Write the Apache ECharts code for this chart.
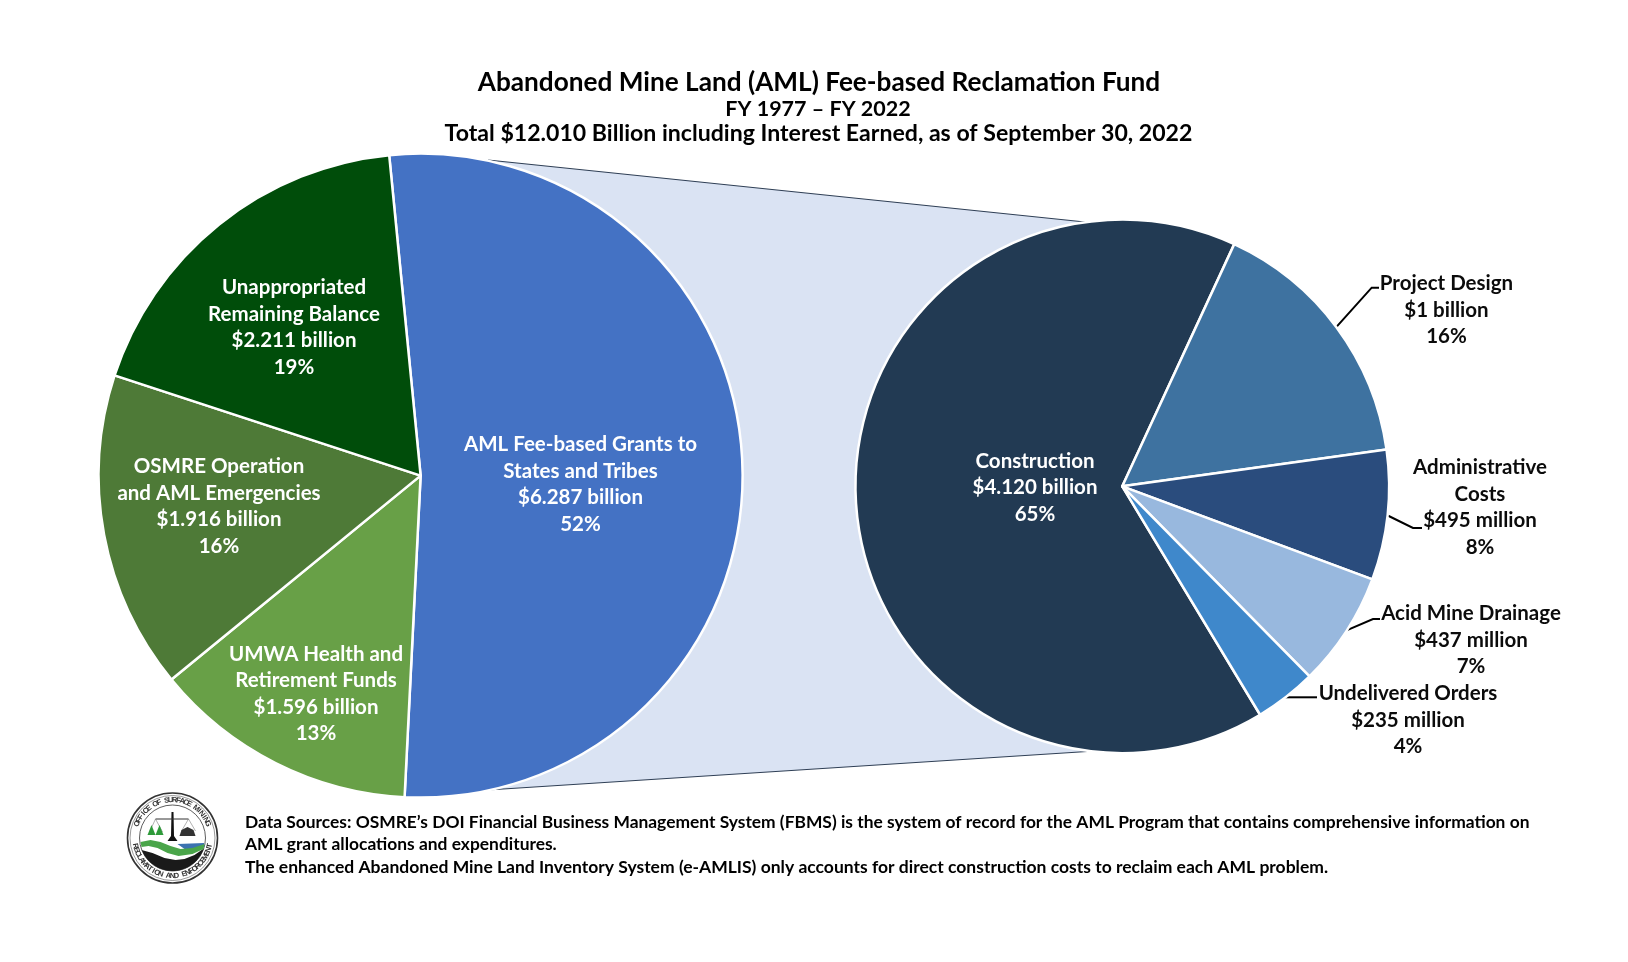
<!DOCTYPE html>
<html><head><meta charset="utf-8">
<style>html,body{margin:0;padding:0;background:#fff}#c{width:1628px;height:962px}</style>
<script src="https://cdn.jsdelivr.net/npm/echarts@6/dist/echarts.min.js"></script>
</head><body><div id="c"></div>
<script>
// ---- data ----
const fundCategories = ['AML Fee-based Grants to\nStates and Tribes','UMWA Health and\nRetirement Funds','OSMRE Operation\nand AML Emergencies','Unappropriated\nRemaining Balance'];
const fundValues = [6287,1596,1916,2211];
const fundAmounts = ['$6.287 billion','$1.596 billion','$1.916 billion','$2.211 billion'];
const fundPercents = ['52%','13%','16%','19%'];
const grantCategories = ['Construction','Project Design','Administrative\nCosts','Acid Mine Drainage','Undelivered Orders'];
const grantValues = [4120,1000,495,437,235];
const grantAmounts = ['$4.120 billion','$1 billion','$495 million','$437 million','$235 million'];
const grantPercents = ['65%','16%','8%','7%','4%'];
const titleLines = ['Abandoned Mine Land (AML) Fee-based Reclamation Fund','FY 1977 \u2013 FY 2022','Total $12.010 Billion including Interest Earned, as of September 30, 2022'];
const footLines = ['Data Sources: OSMRE\u2019s DOI Financial Business Management System (FBMS) is the system of record for the AML Program that contains comprehensive information on','AML grant allocations and expenditures.','The enhanced Abandoned Mine Land Inventory System (e-AMLIS) only accounts for direct construction costs to reclaim each AML problem.'];
// ---- layout / style ----
const FONT='Lato';
const fundColors=['#4472C4','#68A047','#4E7A37','#004D0A'];
const grantColors=['#223A53','#3E72A0','#2A4C7D','#98B8DE','#3F88CB'];
const fundLabelPos=[[580.5,484.6],[316,693.8],[219,506.2],[294,327.6]];
const grantLabelPos=[[1035,487.6],[1446.5,310],[1480,507.6],[1471,640],[1408,720]];
const grantLeaders=[null,
 [[1336.7,326.7],[1371.7,287.7],[1379,287.7]],
 [[1386.7,515],[1413,528],[1422,528]],
 [[1346,630.7],[1373,619],[1380,619]],
 [[1285,697.3],[1300,697.3],[1317,697.3]]];
const pieLabel=(color)=>({fontFamily:FONT,fontWeight:'bold',fontSize:20.5,lineHeight:26.5,color:color,align:'center'});
function makeData(cats,vals,amts,pcts,colors,isInside){
  return cats.map((c,i)=>{
    const inside=isInside(i);
    return {name:c,value:vals[i],
      itemStyle:{color:colors[i]},
      label:Object.assign({show:true,position:inside?'inside':'outside',formatter:c+'\n'+amts[i]+'\n'+pcts[i]},pieLabel(inside?'#fff':'#0b0b0b')),
      labelLine:{show:!inside,lineStyle:{color:'#000',width:2}}};
  });
}
const ringTop='OFFICE OF SURFACE MINING', ringBottom='RECLAMATION AND ENFORCEMENT';
function logo(){
  const ch=[];
  ch.push({type:'circle',shape:{cx:0,cy:0,r:45},style:{fill:'#fff',stroke:'#333',lineWidth:1.6}});
  ch.push({type:'circle',shape:{cx:0,cy:0,r:42.5},style:{fill:'none',stroke:'#555',lineWidth:.6}});
  ch.push({type:'circle',shape:{cx:0,cy:0,r:33},style:{fill:'#fff',stroke:'#333',lineWidth:.8}});
  const put=(txt,a0,a1,r,flip)=>{[...txt].forEach((t,i)=>{
    const a=a0+(a1-a0)*i/(txt.length-1), rad=a*Math.PI/180;
    ch.push({type:'text',x:r*Math.sin(rad),y:-r*Math.cos(rad),rotation:flip?-(a-180)*Math.PI/180:-rad,
      style:{text:t,fontSize:7.5,fontWeight:'bold',fontFamily:'Liberation Sans',fill:'#333',align:'center',verticalAlign:'middle'}});
  });};
  put(ringTop,-68,68,38,false);
  put(ringBottom,258,102,38,true);
  // black ground
  const black=[[-31,12],[-20,15],[-8,20],[3,22],[12,21],[22,17],[32,10]];
  const arc=[];for(let d=20;d<=158;d+=6){const r=d*Math.PI/180;arc.push([33*Math.cos(r),33*Math.sin(r)]);}
  ch.push({type:'polygon',shape:{points:black.concat(arc)},style:{fill:'#1a1a1a'}});
  ch.push({type:'polygon',shape:{points:[[5,6],[31.5,5],[32,9],[22,12],[12,11]]},style:{fill:'#3b72b0'}});
  ch.push({type:'polygon',shape:{points:[[-32,4],[-22,2],[-12,4],[-2,8],[8,11],[20,10],[32,6],[31,11],[20,16],[6,18],[-5,15],[-15,10],[-24,8],[-31,9]]},style:{fill:'#4aa54a'}});
  ch.push({type:'polygon',shape:{points:[[-1,-26],[1,-26],[1.5,-2],[5,3],[-5,3],[-1.5,-2]]},style:{fill:'#111'}});
  ch.push({type:'line',shape:{x1:-17,y1:-19,x2:16,y2:-19},style:{stroke:'#333',lineWidth:1}});
  ch.push({type:'polyline',shape:{points:[[-17,-19],[-23,-6]]},style:{stroke:'#666',lineWidth:.5,fill:'none'}});
  ch.push({type:'polyline',shape:{points:[[-17,-19],[-10,-6]]},style:{stroke:'#666',lineWidth:.5,fill:'none'}});
  ch.push({type:'polyline',shape:{points:[[16,-19],[9,-7]]},style:{stroke:'#666',lineWidth:.5,fill:'none'}});
  ch.push({type:'polyline',shape:{points:[[16,-19],[23,-7]]},style:{stroke:'#666',lineWidth:.5,fill:'none'}});
  ch.push({type:'polygon',shape:{points:[[-21,-13],[-25,-3],[-17,-3]]},style:{fill:'#2e9a3a'}});
  ch.push({type:'polygon',shape:{points:[[-13,-13],[-17,-3],[-9,-3]]},style:{fill:'#2e9a3a'}});
  ch.push({type:'polygon',shape:{points:[[7,-2],[9,-8],[15,-11],[21,-8],[23,-2]]},style:{fill:'#333'}});
  return {type:'group',x:172.5,y:838,children:ch};
}
const chart=echarts.init(document.getElementById('c'),null,{renderer:'canvas'});
chart.setOption({
  animation:false,
  backgroundColor:'#fff',
  title:[
    {text:titleLines[0],left:814,top:65,textAlign:'center',textStyle:{fontFamily:FONT,fontWeight:'bold',fontSize:26.2,color:'#000'}},
    {text:titleLines[1],left:813,top:93,textAlign:'center',textStyle:{fontFamily:FONT,fontWeight:'bold',fontSize:21.5,color:'#000'}},
    {text:titleLines[2],left:813.5,top:117,textAlign:'center',textStyle:{fontFamily:FONT,fontWeight:'bold',fontSize:23.1,color:'#000'}},
    {text:footLines[0],left:240,top:809,textStyle:{fontFamily:FONT,fontWeight:'bold',fontSize:17.4,color:'#000'}},
    {text:footLines[1],left:240,top:831,textStyle:{fontFamily:FONT,fontWeight:'bold',fontSize:17.4,color:'#000'}},
    {text:footLines[2],left:240,top:853,textStyle:{fontFamily:FONT,fontWeight:'bold',fontSize:17.5,color:'#000'}}
  ],
  graphic:[
    {type:'polygon',z:0,shape:{points:[[488,160],[1085,222],[1095,751],[472,791]]},style:{fill:'#DAE3F3'}},
    {type:'line',z:1,shape:{x1:488,y1:160,x2:1085,y2:222},style:{stroke:'#2f3f55',lineWidth:1.2}},
    {type:'line',z:1,shape:{x1:472,y1:791,x2:1095,y2:751},style:{stroke:'#2f3f55',lineWidth:1.2}},
    Object.assign(logo(),{z:5})
  ],
  series:[
    {type:'pie',center:[420.6,475.6],radius:[0,322],startAngle:95.6,clockwise:true,
     itemStyle:{borderColor:'#fff',borderWidth:2.5},
     avoidLabelOverlap:false,
     data:makeData(fundCategories,fundValues,fundAmounts,fundPercents,fundColors,()=>true),
     labelLayout:(p)=>({x:fundLabelPos[p.dataIndex][0],y:fundLabelPos[p.dataIndex][1],align:'center',verticalAlign:'middle'})},
    {type:'pie',center:[1122.3,486.3],radius:[0,266.8],startAngle:-58.9,clockwise:true,
     itemStyle:{borderColor:'#fff',borderWidth:2.5},
     avoidLabelOverlap:false,
     data:makeData(grantCategories,grantValues,grantAmounts,grantPercents,grantColors,(i)=>i===0),
     labelLayout:(p)=>{
       const o={x:grantLabelPos[p.dataIndex][0],y:grantLabelPos[p.dataIndex][1],align:'center',verticalAlign:'middle'};
       if(grantLeaders[p.dataIndex]) o.labelLinePoints=grantLeaders[p.dataIndex];
       return o;
     }}
  ]
});
</script></body></html>
